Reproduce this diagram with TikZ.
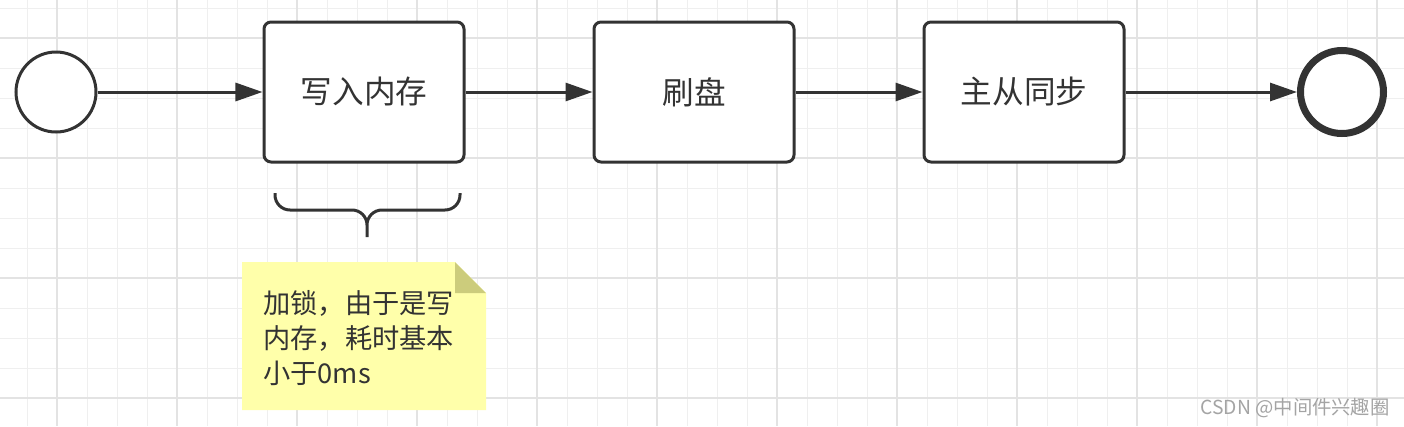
\documentclass[tikz,border=0pt]{standalone}
\usepackage{fontspec}
\setmainfont{Noto Sans CJK SC}
\usepackage{xcolor}
\usepackage{tikz}
\usetikzlibrary{arrows.meta}

\definecolor{ink}{HTML}{333333}
\definecolor{gridminor}{HTML}{EFEFEF}
\definecolor{gridmajor}{HTML}{E3E3E3}
\definecolor{notefill}{HTML}{FFFFAA}
\definecolor{notefold}{HTML}{CCCC7C}
\definecolor{markgray}{HTML}{A4A4A4}

\begin{document}
\begin{tikzpicture}[x=0.2mm, y=-0.2mm,
  stepbox/.style={draw=ink, line width=0.6mm, fill=white, rounded corners=1.4mm,
    minimum width=40mm, minimum height=28mm, text=ink, font=\fontsize{18}{22}\selectfont},
  startnode/.style={draw=ink, circle, line width=0.6mm, fill=white, minimum size=16mm, inner sep=0pt},
  endnode/.style={draw=ink, circle, line width=1.4mm, fill=white, minimum size=16.6mm, inner sep=0pt},
  flow/.style={draw=ink, line width=0.6mm, -{Triangle[length=5.4mm, width=3.6mm]}},
  notetext/.style={align=left, inner sep=0pt, text=ink, font=\fontsize{15.5}{19.9}\selectfont},
  watermark/.style={inner sep=0pt, text=markgray, font=\fontsize{11}{13}\selectfont}]
\useasboundingbox (0,0) rectangle (1404,426);
\fill[white] (0,0) rectangle (1404,426);
% grid
\foreach \gx in {27,57,...,1407} \draw[gridminor, line width=0.2mm] (\gx,0) -- (\gx,426);
\foreach \gy in {8,38,...,428} \draw[gridminor, line width=0.2mm] (0,\gy) -- (1404,\gy);
\foreach \gx in {57,177,...,1377} \draw[gridmajor, line width=0.3mm] (\gx,0) -- (\gx,426);
\foreach \gy in {38,158,...,398} \draw[gridmajor, line width=0.3mm] (0,\gy) -- (1404,\gy);
% flow
\node[startnode] (start) at (56,92) {};
\node[stepbox] (write) at (364,92) {写入内存};
\node[stepbox] (flush) at (694,92) {刷盘};
\node[stepbox] (sync) at (1024,92) {主从同步};
\node[endnode] (end) at (1342,92) {};
\draw[flow] (start) -- (write);
\draw[flow] (write) -- (flush);
\draw[flow] (flush) -- (sync);
\draw[flow] (sync) -- (end);
% brace under the first step
\draw[ink, line width=0.6mm, rounded corners=3mm]
  (275,193) -- (275,210) -- (367,210) -- (367,237)
  (460,193) -- (460,210) -- (367,210) -- (367,237);
% note
\fill[notefill] (242,262) -- (455,262) -- (486,293) -- (486,410) -- (242,410) -- cycle;
\fill[notefold] (455,262) -- (486,293) -- (455,293) -- cycle;
\node[notetext, anchor=west] (lock) at (263,338) {加锁，由于是写\\内存，耗时基本\\小于0ms};
\node[watermark, anchor=east] (mark) at (1390,408) {CSDN @中间件兴趣圈};
\end{tikzpicture}
\end{document}
